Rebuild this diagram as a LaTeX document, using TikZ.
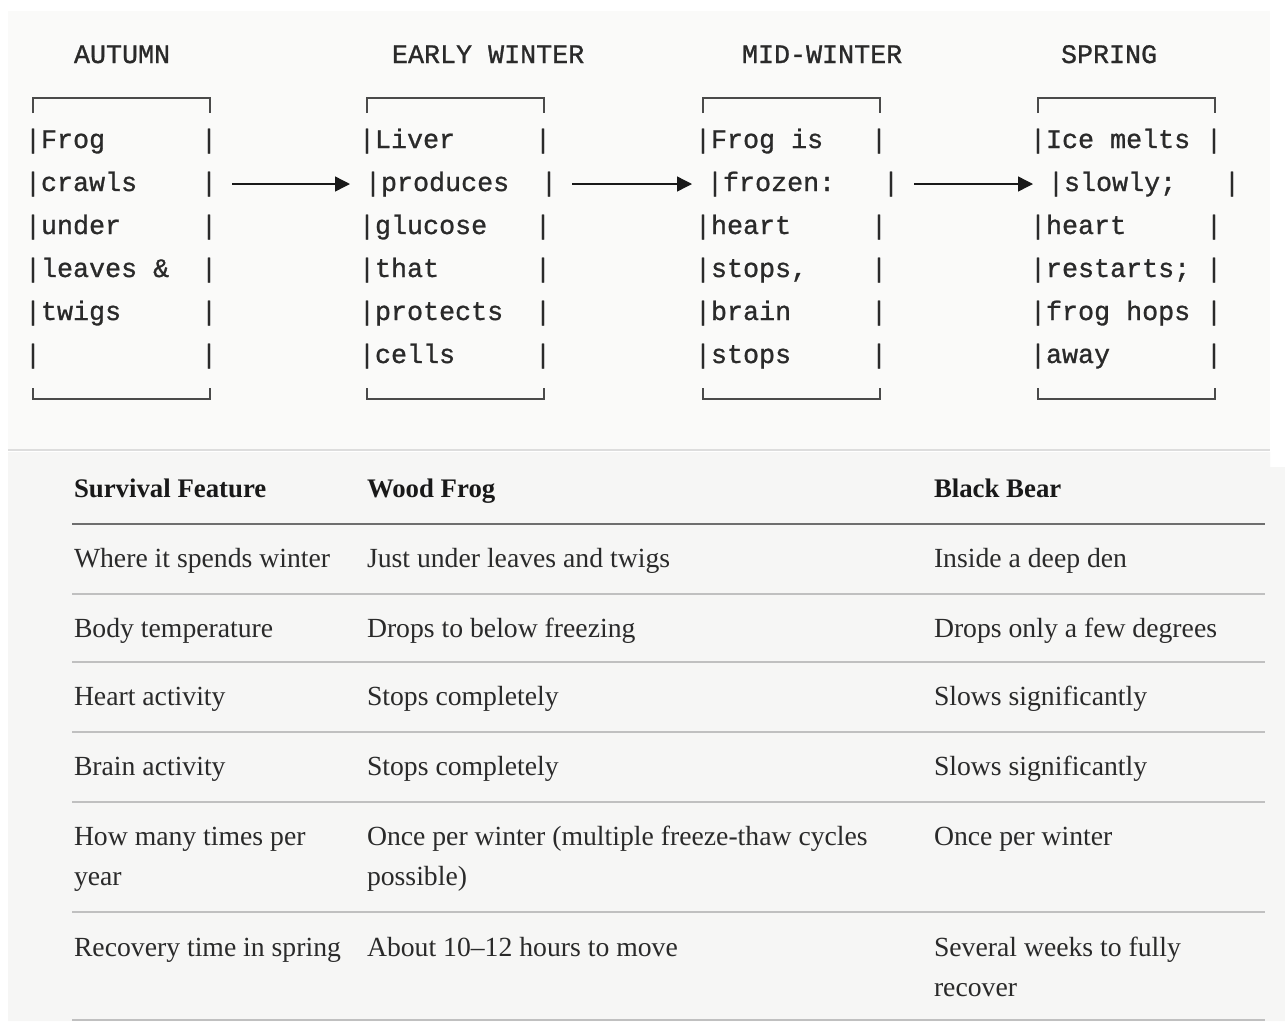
\documentclass[tikz,border=0pt]{standalone}
\usepackage{fontspec}
\setmainfont{Liberation Serif}
\newfontfamily\monof[FakeBold=1]{Liberation Mono}
\usetikzlibrary{arrows.meta}
\definecolor{topbg}{HTML}{FAFAF9}
\definecolor{botbg}{HTML}{F6F6F5}
\definecolor{ink}{HTML}{2A2A2A}
\definecolor{rulec}{HTML}{C0C0C0}
\definecolor{hrulec}{HTML}{6E6E6E}
\definecolor{brk}{HTML}{4A4A4A}
\definecolor{sepc}{HTML}{DDDDDD}
\newcommand\brow[4]{%
  \node[mono] (#1L) at (#2,#3) {|#4};
  \node[mono] (#1R) at (#2+176,#3) {|};
}
\newcommand\bframe[1]{%
  \draw[brkt] (#1+8,113) -- (#1+8,98) -- (#1+185,98) -- (#1+185,113);
  \draw[brkt] (#1+8,388) -- (#1+8,399) -- (#1+185,399) -- (#1+185,388);
}
\begin{document}
\begin{tikzpicture}[x=1pt,y=-1pt,
  mono/.style={font=\monof\fontsize{26.7}{30}\selectfont, text=ink, inner sep=0pt, outer sep=0pt, anchor=base west},
  cell/.style={font=\fontsize{27.7}{32}\selectfont, text=ink, inner sep=0pt, outer sep=0pt, anchor=base west},
  headcell/.style={font=\bfseries\fontsize{26.8}{32}\selectfont, text=black!90, inner sep=0pt, outer sep=0pt, anchor=base west},
  arr/.style={draw=black!90, line width=1.4pt, -{Triangle[length=15pt,width=15pt]}},
  brkt/.style={draw=brk, line width=1.6pt},
  trule/.style={draw=rulec, line width=1.6pt},
  hrule/.style={draw=hrulec, line width=2pt}]
\useasboundingbox (0,0) rectangle (1285,1021);
\fill[white] (0,0) rectangle (1285,1021);
% panels
\fill[topbg] (8,11) rectangle (1270,450);
\fill[botbg] (8,452) -- (1270,452) -- (1270,467) -- (1285,467) -- (1285,1021) -- (8,1021) -- cycle;
\draw[sepc, line width=2pt] (8,450) -- (1270,450);
% headings
\node[mono] (hA) at (74,63) {AUTUMN};
\node[mono] (hB) at (392,63) {EARLY WINTER};
\node[mono] (hC) at (742,63) {MID-WINTER};
\node[mono] (hD) at (1061,63) {SPRING};
% box 1
\bframe{25}
\brow{a1}{25}{148}{Frog}
\brow{a2}{25}{191}{crawls}
\brow{a3}{25}{234}{under}
\brow{a4}{25}{277}{leaves \&}
\brow{a5}{25}{320}{twigs}
\brow{a6}{25}{363}{}
% box 2
\bframe{359}
\brow{b1}{359}{148}{Liver}
\brow{b2}{365}{191}{produces}
\brow{b3}{359}{234}{glucose}
\brow{b4}{359}{277}{that}
\brow{b5}{359}{320}{protects}
\brow{b6}{359}{363}{cells}
% box 3
\bframe{695}
\brow{c1}{695}{148}{Frog is}
\brow{c2}{707}{191}{frozen:}
\brow{c3}{695}{234}{heart}
\brow{c4}{695}{277}{stops,}
\brow{c5}{695}{320}{brain}
\brow{c6}{695}{363}{stops}
% box 4
\bframe{1030}
\brow{d1}{1030}{148}{Ice melts}
\brow{d2}{1048}{191}{slowly;}
\brow{d3}{1030}{234}{heart}
\brow{d4}{1030}{277}{restarts;}
\brow{d5}{1030}{320}{frog hops}
\brow{d6}{1030}{363}{away}
% arrows
\draw[arr] ([shift={(15,-7)}]a2R.base east) -- ([shift={(-15,-7)}]b2L.base west);
\draw[arr] ([shift={(15,-7)}]b2R.base east) -- ([shift={(-15,-7)}]c2L.base west);
\draw[arr] ([shift={(15,-7)}]c2R.base east) -- ([shift={(-15,-7)}]d2L.base west);
% table header
\node[headcell] (t0a) at (74,497) {Survival Feature};
\node[headcell] (t0b) at (367,497) {Wood Frog};
\node[headcell] (t0c) at (934,497) {Black Bear};
\draw[hrule] (72,524) -- (1265,524);
% rows
\node[cell] (t1a) at (74,567) {Where it spends winter};
\node[cell] (t1b) at (367,567) {Just under leaves and twigs};
\node[cell] (t1c) at (934,567) {Inside a deep den};
\draw[trule] (72,594) -- (1265,594);
\node[cell] (t2a) at (74,637) {Body temperature};
\node[cell] (t2b) at (367,637) {Drops to below freezing};
\node[cell] (t2c) at (934,637) {Drops only a few degrees};
\draw[trule] (72,662) -- (1265,662);
\node[cell] (t3a) at (74,705) {Heart activity};
\node[cell] (t3b) at (367,705) {Stops completely};
\node[cell] (t3c) at (934,705) {Slows significantly};
\draw[trule] (72,732) -- (1265,732);
\node[cell] (t4a) at (74,775) {Brain activity};
\node[cell] (t4b) at (367,775) {Stops completely};
\node[cell] (t4c) at (934,775) {Slows significantly};
\draw[trule] (72,802) -- (1265,802);
\node[cell] (t5a) at (74,845) {How many times per};
\node[cell] (t5a2) at (74,885) {year};
\node[cell] (t5b) at (367,845) {Once per winter (multiple freeze-thaw cycles};
\node[cell] (t5b2) at (367,885) {possible)};
\node[cell] (t5c) at (934,845) {Once per winter};
\draw[trule] (72,912) -- (1265,912);
\node[cell] (t6a) at (74,956) {Recovery time in spring};
\node[cell] (t6b) at (367,956) {About 10--12 hours to move};
\node[cell] (t6c) at (934,956) {Several weeks to fully};
\node[cell] (t6c2) at (934,996) {recover};
\draw[trule] (72,1020) -- (1265,1020);
\end{tikzpicture}
\end{document}
